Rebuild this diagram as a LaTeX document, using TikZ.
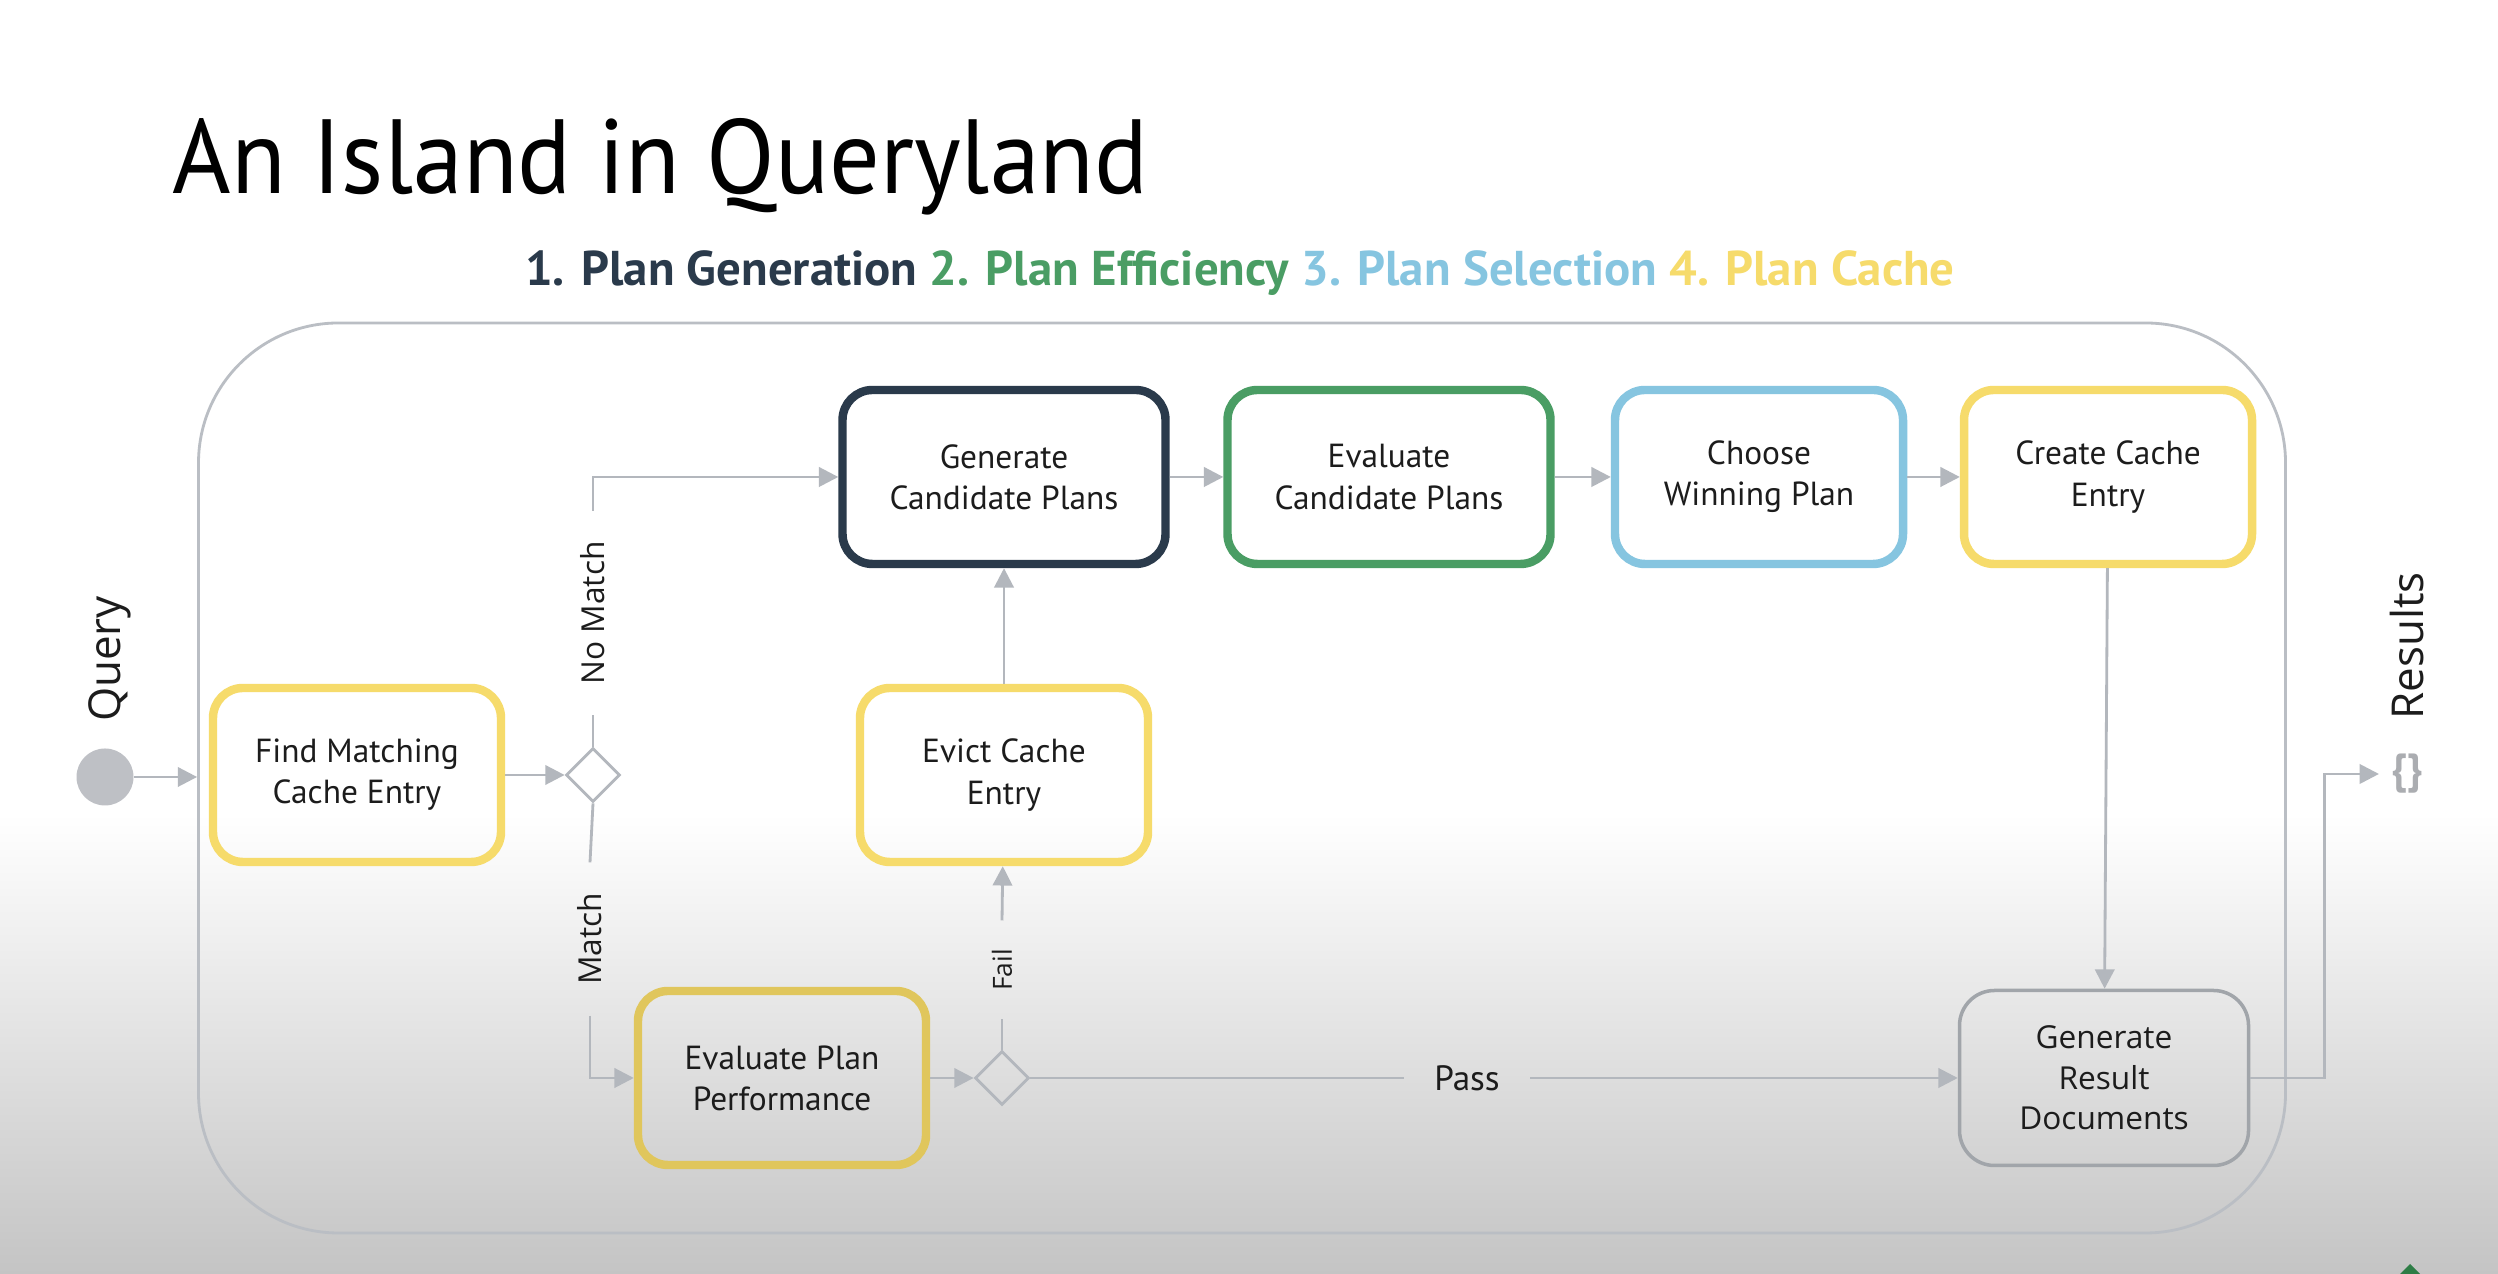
\documentclass[tikz,border=0pt]{standalone}
\usepackage{fontspec}
\setmainfont{PT Sans}
\newfontfamily\lblfont{Open Sans}
\usepackage{tikz}
\usetikzlibrary{shapes.geometric, arrows.meta, calc}

\definecolor{plannavy}{HTML}{2A3A4B}
\definecolor{plangreen}{HTML}{4A9D64}
\definecolor{planblue}{HTML}{86C5E0}
\definecolor{planyellow}{HTML}{F6DB6B}
\definecolor{planmustard}{HTML}{E0C65C}
\definecolor{linegray}{HTML}{B3B7BD}
\definecolor{framegray}{HTML}{BABEC4}
\definecolor{startgray}{HTML}{BEC0C5}
\definecolor{bggray}{HTML}{C4C4C4}
\definecolor{txt}{HTML}{1C1C1C}
\definecolor{logogreen}{HTML}{2E7D46}

\tikzset{task/.style={rectangle, rounded corners=0.3cm, line width=2.4pt,
minimum width=2.88cm, minimum height=1.74cm, text=txt, align=center,
font=\fontsize{9.5}{11.7}\selectfont}}
\tikzset{gateway/.style={diamond, draw=linegray, line width=0.8pt,
minimum width=0.54cm, minimum height=0.54cm, inner sep=0pt}}
\tikzset{flow/.style={draw=linegray, line width=0.8pt,
-{Triangle[length=5.5pt, width=5.5pt]}}}
\tikzset{wire/.style={draw=linegray, line width=0.8pt}}
\tikzset{guard/.style={inner xsep=0.3cm, inner ysep=0pt, text=txt}}
\tikzset{sidelabel/.style={rotate=90, text=txt,
font=\lblfont\fontsize{12.5}{15}\selectfont}}

\begin{document}
\begin{tikzpicture}[
]
\useasboundingbox (0,0) rectangle (24.98,12.74);
\fill [white] (0,0) rectangle (24.98,12.74);
\shade [top color=white, bottom color=bggray] (0,0) rectangle (24.98,4.6);

\node [anchor=base west, xscale=0.95, inner sep=0pt, font=\fontsize{30}{36}\selectfont] (title) at (1.72, 10.80) {An Island in Queryland};
\node [anchor=base, font=\fontsize{13.9}{16}\selectfont\bfseries] (phases) at (12.40, 9.88)
{\textcolor{plannavy}{1. Plan Generation} \textcolor{plangreen}{2. Plan Efficiency}
\textcolor{planblue}{3. Plan Selection} \textcolor{planyellow}{4. Plan Cache}};

\node[rectangle,
draw=framegray,
line width=0.8pt,
rounded corners=1.4cm,
minimum width=20.87cm,
minimum height=9.10cm] (island) at (12.42, 4.96) {};

\node [circle, fill=startgray, minimum size=0.57cm, inner sep=0pt] (q) at (1.05, 4.97) {};
\node [sidelabel] (qlbl) at (1.10, 6.15) {Query};

\node [task, draw=planyellow] (fm) at (3.57, 4.99) {Find Matching\\Cache Entry};
\node [gateway] (d1) at (5.93, 4.99) {};

\node [task, draw=plannavy, minimum width=3.23cm] (gen) at (10.04, 7.97) {Generate\\Candidate Plans};
\node [task, draw=plangreen, minimum width=3.23cm] (evc) at (13.89, 7.97) {Evaluate\\Candidate Plans};
\node [task, draw=planblue] (chw) at (17.59, 7.97) {Choose\\Winning Plan};
\node [task, draw=planyellow] (cc) at (21.08, 7.97) {Create Cache\\Entry};

\node [task, draw=planyellow] (ev) at (10.04, 4.99) {Evict Cache\\Entry};
\node [task, draw=planmustard] (epp) at (7.82, 1.96) {Evaluate Plan\\Performance};
\node [gateway] (d2) at (10.02, 1.96) {};

\node[rectangle,
draw=linegray!90!black,
line width=1pt,
rounded corners=0.35cm,
minimum width=2.89cm,
minimum height=1.75cm,
align=center,
text=txt,
font=\lblfont\fontsize{9}{11.5}\selectfont] (grd) at (21.04, 1.96) {Generate\\Result\\Documents};

\node [guard, rotate=90, font=\lblfont\fontsize{9}{11}\selectfont] (nomatch) at (5.93, 6.61) {No Match};
\node [guard, rotate=90, font=\lblfont\fontsize{9}{11}\selectfont] (match) at (5.90, 3.35) {Match};
\node [guard, rotate=90, inner xsep=0.28cm, font=\lblfont\fontsize{7.5}{9}\selectfont] (fail) at (10.02, 3.04) {Fail};
\node [guard, font=\fontsize{10}{12}\selectfont] (pass) at (14.67, 1.96) {Pass};

\node [text=startgray!90!black, font=\fontsize{12}{14}\selectfont\bfseries] (res) at (24.07, 5.00) {\{\}};
\node [sidelabel] (reslbl) at (24.07, 6.28) {Results};

\draw [flow] (q) -- (q.east -| island.west);
\draw [flow] (fm) -- (d1);

\draw [wire] (d1.north) -- (nomatch.west);
\draw [flow] (nomatch.east) |- (gen);
\draw [wire] (d1.south) -- (match.east);
\draw [flow] (match.west) |- (epp);

\draw [flow] (epp) -- (d2);
\draw [wire] (d2.north) -- (fail.west);
\draw [flow] (fail.east) -- (ev);
\draw [wire] (d2.east) -- (pass);
\draw [flow] (pass) -- (grd);

\draw [flow] (ev) -- (gen);
\draw [flow] (gen) -- (evc);
\draw [flow] (evc) -- (chw);
\draw [flow] (chw) -- (cc);
\draw [flow] (cc) -- (grd);

\draw [flow] (grd.east) -- ++(0.74,0) |- (res.west);

\fill [logogreen] (24.10,0.10) -- (24.00,0) -- (24.20,0) -- cycle;

\end{tikzpicture}
\end{document}
